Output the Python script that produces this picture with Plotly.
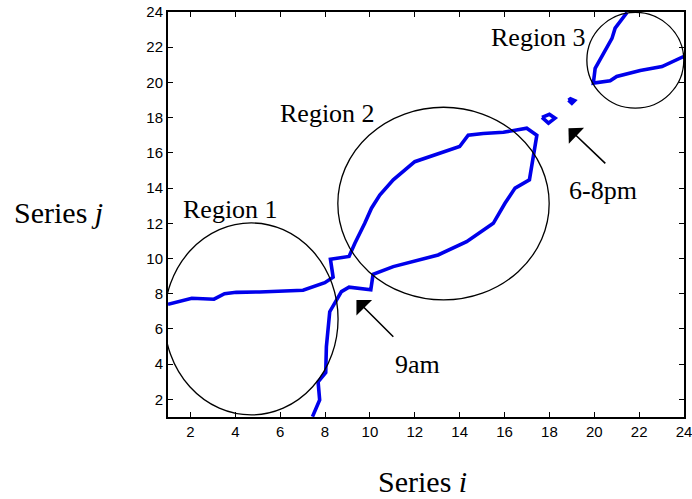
import plotly.graph_objects as go

# ---- data ----
main_i = [1.0, 2.06, 3.05, 3.52, 4.04, 5.08, 7.02, 7.99, 8.36, 8.24, 9.07, 9.33, 9.77,
          10.07, 10.44, 11.04, 12.0, 12.97, 14.0, 14.38, 15.05, 15.95, 16.99, 17.44,
          17.26, 17.11, 16.47, 16.02, 15.5, 14.31, 13.04, 12.23, 11.04, 10.14, 10.04,
          9.07, 8.73, 8.21, 8.06, 8.03, 7.69, 7.76, 7.44]
main_j = [7.4, 7.74, 7.69, 8.0, 8.08, 8.1, 8.2, 8.63, 8.94, 9.96, 10.12, 10.87, 12.0,
          12.86, 13.6, 14.47, 15.5, 15.94, 16.36, 17.0, 17.1, 17.17, 17.4, 17.0,
          15.6, 14.47, 14.0, 13.14, 12.0, 10.96, 10.2, 9.92, 9.54, 9.1, 8.22,
          8.37, 8.12, 6.98, 5.0, 3.52, 3.0, 1.97, 1.02]

loop1_i = [17.67, 18.0, 18.25, 17.96, 17.67]
loop1_j = [18.02, 18.19, 17.97, 17.69, 18.02]

loop2_i = [18.85, 18.94, 19.12, 19.0, 18.85]
loop2_j = [18.99, 19.07, 18.97, 18.82, 18.99]

region3_i = [21.46, 20.93, 20.79, 20.56, 20.19, 20.04, 19.96, 20.71, 21.0, 22.05, 23.02, 23.98]
region3_j = [23.97, 23.08, 22.5, 21.95, 21.1, 20.8, 19.96, 20.09, 20.34, 20.68, 20.9, 21.47]

# ellipses: centre and radii in data units
region_names = ["Region 1", "Region 2", "Region 3"]
ell_cx = [4.71, 13.28, 21.83]
ell_cy = [6.57, 13.12, 21.26]
ell_rx = [3.87, 4.71, 2.16]
ell_ry = [5.45, 5.47, 2.72]
label_x = [3.78, 8.10, 17.51]
label_y = [12.76, 18.22, 22.56]

arrow_text = ["9am", "6-8pm"]
arrow_tip_x = [9.40, 18.85]
arrow_tip_y = [7.65, 17.40]
arrow_tail_x = [11.11, 20.56]
arrow_tail_y = [5.47, 15.32]
arrow_label_x = [12.11, 20.41]
arrow_label_y = [4.01, 13.84]

tick_vals = list(range(2, 25, 2))

BLUE = "rgb(0,0,235)"
SERIF = "Liberation Serif, Times New Roman, serif"
SANS = "Liberation Sans, Arial, Helvetica, sans-serif"

fig = go.Figure()
for xs, ys in [(main_i, main_j), (loop1_i, loop1_j), (loop2_i, loop2_j), (region3_i, region3_j)]:
    fig.add_trace(go.Scatter(x=xs, y=ys, mode="lines",
                             line=dict(color=BLUE, width=3.6), showlegend=False,
                             hoverinfo="skip"))

shapes = []
annotations = []
for n, cx, cy, rx, ry, lx, ly in zip(region_names, ell_cx, ell_cy, ell_rx, ell_ry, label_x, label_y):
    shapes.append(dict(type="circle", xref="x", yref="y",
                       x0=cx - rx, x1=cx + rx, y0=cy - ry, y1=cy + ry,
                       line=dict(color="black", width=1.3)))
    annotations.append(dict(x=lx, y=ly, xref="x", yref="y", text=n, showarrow=False,
                            font=dict(family=SERIF, size=26, color="black"),
                            xanchor="center", yanchor="middle"))

for t, tx, ty, ax, ay, lx, ly in zip(arrow_text, arrow_tip_x, arrow_tip_y, arrow_tail_x,
                                     arrow_tail_y, arrow_label_x, arrow_label_y):
    annotations.append(dict(x=tx, y=ty, xref="x", yref="y", ax=ax, ay=ay, axref="x", ayref="y",
                            text="", showarrow=True, arrowhead=1, arrowsize=2.3,
                            arrowwidth=1.6, arrowcolor="black"))
    annotations.append(dict(x=lx, y=ly, xref="x", yref="y", text=t, showarrow=False,
                            font=dict(family=SERIF, size=26, color="black"),
                            xanchor="center", yanchor="middle"))

# axis titles (horizontal)
L, R, T, B, W, H = 168, 8, 12, 82, 692, 499
pw, ph = W - L - R, H - T - B
annotations.append(dict(x=(422.5 - L) / pw, y=(T + ph - 481.7) / ph, xref="paper", yref="paper",
                        text="Series <i>i</i>", showarrow=False,
                        font=dict(family=SERIF, size=30, color="black"),
                        xanchor="center", yanchor="middle"))
annotations.append(dict(x=(58.5 - L) / pw, y=(T + ph - 212) / ph, xref="paper", yref="paper",
                        text="Series <i>j</i>", showarrow=False,
                        font=dict(family=SERIF, size=30, color="black"),
                        xanchor="center", yanchor="middle"))

axis_common = dict(tickmode="array", tickvals=tick_vals, ticktext=[str(v) for v in tick_vals],
                   ticks="inside", ticklen=5, tickwidth=1.3, tickcolor="black",
                   showline=True, linecolor="black", linewidth=2, mirror="allticks",
                   showgrid=False, zeroline=False, automargin=False,
                   ticklabeloverflow="allow",
                   tickfont=dict(family=SANS, size=15, color="black"))

fig.update_layout(
    width=W, height=H, margin=dict(l=L, r=R, t=T, b=B, autoexpand=False),
    plot_bgcolor="white", paper_bgcolor="white",
    xaxis=dict(range=[1, 24], **axis_common),
    yaxis=dict(range=[1, 24], **axis_common),
    shapes=shapes, annotations=annotations,
)

fig.write_html("out.html", config={"displayModeBar": False},
               post_script="document.body.style.margin='0px';document.body.style.padding='0px';")
